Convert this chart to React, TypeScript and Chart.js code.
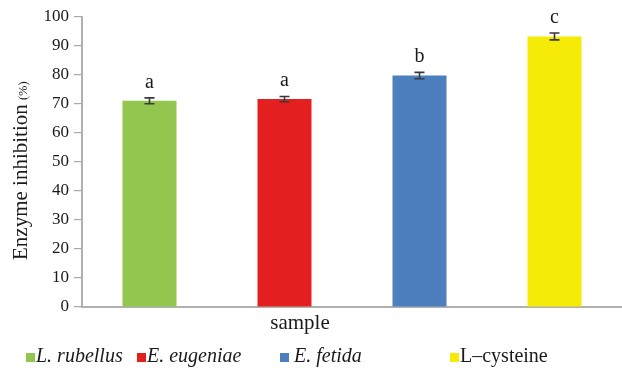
import React, { useEffect, useRef } from "react";
import { Chart, registerables } from "chart.js";

Chart.register(...registerables);

const CATEGORIES = ["sample"];
const SERIES_NAMES = ["L. rubellus", "E. eugeniae", "E. fetida", "L\u2013cysteine"];
const SERIES_ITALIC = [true, true, true, false];
const SERIES_VALUES = [71.1, 71.7, 79.8, 93.3];
const SERIES_ERRORS = [1.0, 0.9, 1.1, 1.2];
const SIG_LETTERS = ["a", "a", "b", "c"];
const SERIES_COLORS = ["#92c64f", "#e3201f", "#4d7fbe", "#f6eb06"];
const Y_TITLE = "Enzyme inhibition";
const Y_UNIT = "(%)";
const X_TITLE = "sample";

const SERIF = "'Liberation Serif', 'Times New Roman', serif";
const LEGEND_X = [26, 137, 280, 450];

const overlay = {
  id: "overlay",
  afterDatasetsDraw(chart: any) {
    const ctx = chart.ctx;
    const yScale = chart.scales.y;
    const area = chart.chartArea;
    ctx.save();
    SERIES_VALUES.forEach((v, i) => {
      const meta = chart.getDatasetMeta(i);
      const el = meta.data[0];
      if (!el) return;
      const x = el.x;
      const yTop = yScale.getPixelForValue(v + SERIES_ERRORS[i]);
      const yBot = yScale.getPixelForValue(v - SERIES_ERRORS[i]);
      ctx.strokeStyle = "#3a3a3a";
      ctx.lineWidth = 1.6;
      ctx.beginPath();
      ctx.moveTo(x, yTop);
      ctx.lineTo(x, yBot);
      ctx.moveTo(x - 5, yTop);
      ctx.lineTo(x + 5, yTop);
      ctx.moveTo(x - 5, yBot);
      ctx.lineTo(x + 5, yBot);
      ctx.stroke();
      ctx.fillStyle = "#1a1a1a";
      ctx.font = `20px ${SERIF}`;
      ctx.textAlign = "center";
      ctx.textBaseline = "alphabetic";
      ctx.fillText(SIG_LETTERS[i], x, yTop - 10);
    });
    ctx.fillStyle = "#1a1a1a";
    ctx.font = `21px ${SERIF}`;
    ctx.textAlign = "center";
    ctx.fillText(X_TITLE, (area.left + area.right) / 2 - 52, area.bottom + 22);
    ctx.save();
    ctx.translate(27, 260);
    ctx.rotate(-Math.PI / 2);
    ctx.scale(1.05, 1);
    ctx.textAlign = "left";
    ctx.font = `20px ${SERIF}`;
    ctx.fillText(Y_TITLE, 0, 0);
    const w = ctx.measureText(Y_TITLE + " ").width;
    ctx.font = `12px ${SERIF}`;
    ctx.fillText(Y_UNIT, w - 1, 0);
    ctx.restore();
    SERIES_NAMES.forEach((name, i) => {
      const lx = LEGEND_X[i];
      ctx.fillStyle = SERIES_COLORS[i];
      ctx.fillRect(lx, 353, 9, 9);
      ctx.fillStyle = "#1a1a1a";
      ctx.textAlign = "left";
      ctx.font = `${SERIES_ITALIC[i] ? "italic " : ""}20px ${SERIF}`;
      ctx.fillText(name, lx + (i === 2 ? 14 : 10), 362);
    });
    ctx.restore();
  },
};

export default function App() {
  const ref = useRef<HTMLCanvasElement>(null);
  useEffect(() => {
    if (!ref.current) return;
    const chart = new Chart(ref.current, {
      type: "bar",
      data: {
        labels: CATEGORIES,
        datasets: SERIES_NAMES.map((name, i) => ({
          label: name,
          data: [SERIES_VALUES[i]],
          backgroundColor: SERIES_COLORS[i],
          borderWidth: 0,
          categoryPercentage: 1,
          barPercentage: 0.4,
        })),
      },
      options: {
        responsive: false,
        animation: false,
        layout: { padding: { top: 17, right: 0, left: 0, bottom: 0 } },
        plugins: { legend: { display: false }, tooltip: { enabled: false }, title: { display: false } },
        scales: {
          x: {
            ticks: { display: false },
            grid: { display: false },
            border: { display: true, color: "#b0b0b0", width: 2 },
            afterFit: (s: any) => {
              s.height = 61;
            },
          },
          y: {
            min: 0,
            max: 100,
            ticks: {
              stepSize: 10,
              padding: 5,
              color: "#1a1a1a",
              font: { family: SERIF, size: 17 },
            },
            grid: { drawOnChartArea: false, tickLength: 8, color: "#a8a8a8", lineWidth: 1.2 },
            border: { display: true, color: "#b0b0b0", width: 2 },
            afterFit: (s: any) => {
              s.width = 82;
            },
          },
        },
      },
      plugins: [overlay],
    });
    return () => chart.destroy();
  }, []);
  return (
    <div style={{ position: "absolute", left: 0, top: 0, width: 622, height: 368, background: "#fff" }}>
      <canvas ref={ref} width={622} height={368} style={{ display: "block" }} />
    </div>
  );
}
